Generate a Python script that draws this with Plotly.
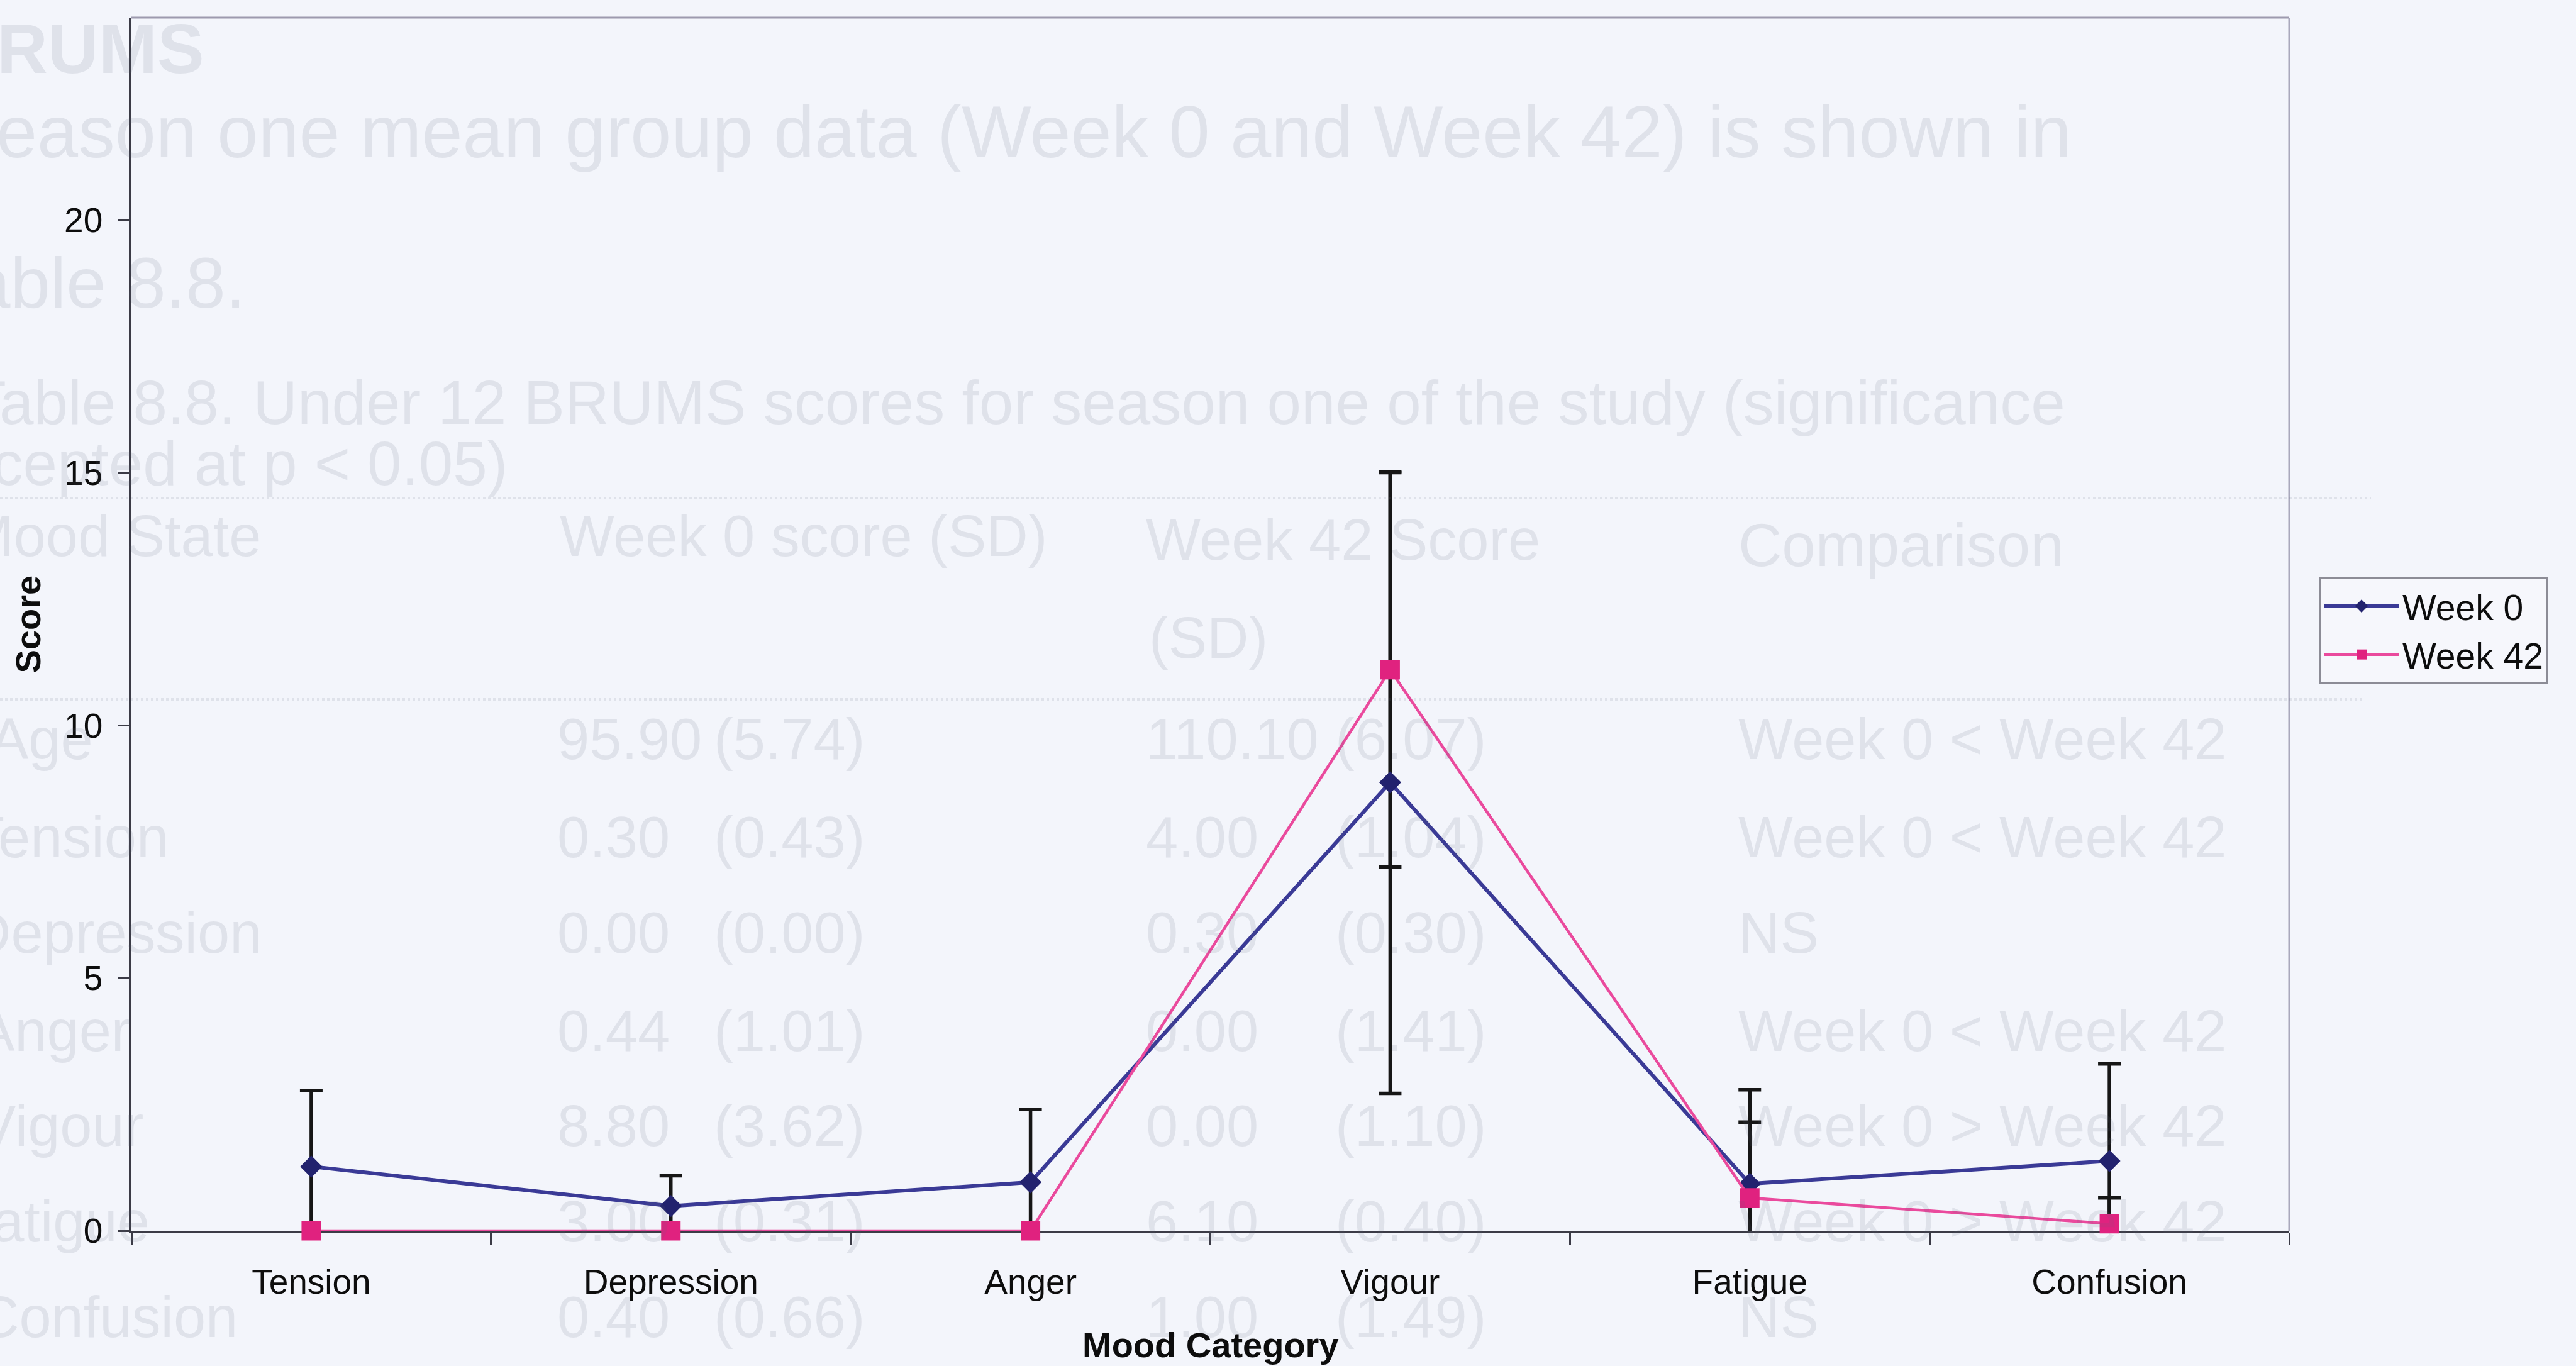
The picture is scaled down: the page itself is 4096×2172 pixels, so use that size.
import plotly.graph_objects as go

# ---- chart data -------------------------------------------------------------
categories = ["Tension", "Depression", "Anger", "Vigour", "Fatigue", "Confusion"]
week0_mean = [1.27, 0.49, 0.96, 8.87, 0.93, 1.38]
week0_sd = [1.50, 0.60, 1.44, 6.15, 1.86, 1.92]
week42_mean = [0.0, 0.0, 0.0, 11.10, 0.65, 0.14]
week42_sd = [None, None, None, 3.90, 1.50, 0.51]
y_ticks = [0, 5, 10, 15, 20]

# ---- faint page text showing through the scan -------------------------------
page_rows = ["Age", "Tension", "Depression", "Anger", "Vigour", "Fatigue", "Confusion"]
page_w0_mean = ["95.90", "0.30", "0.00", "0.44", "8.80", "3.00", "0.40"]
page_w0_sd = ["(5.74)", "(0.43)", "(0.00)", "(1.01)", "(3.62)", "(0.31)", "(0.66)"]
page_w42_mean = ["110.10", "4.00", "0.30", "0.00", "0.00", "6.10", "1.00"]
page_w42_sd = ["(6.07)", "(1.04)", "(0.30)", "(1.41)", "(1.10)", "(0.40)", "(1.49)"]
page_comparison = ["Week 0 < Week 42", "Week 0 < Week 42", "NS", "Week 0 < Week 42",
                   "Week 0 > Week 42", "Week 0 > Week 42", "NS"]

# ---- geometry / styling -----------------------------------------------------
W, H = 4096, 2172
L, R, T, B = 209, 3640, 28, 1957          # plot area edges in page pixels
FONT = "Liberation Sans, Arial, Helvetica, sans-serif"
BG = "#F3F5FB"
AXIS = "#3b3b46"
GHOST = "rgba(95,100,125,0.13)"
BLUE_LINE, BLUE_MARK = "#3A3A96", "#22226E"
PINK_LINE, PINK_MARK = "#EA4A9D", "#E0227F"


def px_x(px):
    return (px - L) / (R - L)


def px_y(py):
    return (B - py) / (B - T)


fig = go.Figure()

# error bars (clipped to the plot area)
fig.add_trace(go.Scatter(
    x=categories, y=week0_mean, mode="markers",
    marker=dict(size=2, opacity=0), showlegend=False, hoverinfo="skip",
    error_y=dict(type="data", array=week0_sd, symmetric=True,
                 color="#161616", thickness=5.5, width=18),
))
idx42 = [i for i, s in enumerate(week42_sd) if s is not None]
fig.add_trace(go.Scatter(
    x=[categories[i] for i in idx42], y=[week42_mean[i] for i in idx42], mode="markers",
    marker=dict(size=2, opacity=0), showlegend=False, hoverinfo="skip",
    error_y=dict(type="data", array=[week42_sd[i] for i in idx42], symmetric=True,
                 color="#161616", thickness=5.5, width=18),
))

# series lines and markers on an overlaid copy of the axes
fig.add_trace(go.Scatter(
    x=categories, y=week0_mean, name="Week 0", mode="lines+markers",
    xaxis="x2", yaxis="y2", cliponaxis=False,
    line=dict(color=BLUE_LINE, width=6),
    marker=dict(symbol="diamond", size=27, color=BLUE_MARK),
))
fig.add_trace(go.Scatter(
    x=categories, y=week42_mean, name="Week 42", mode="lines+markers",
    xaxis="x2", yaxis="y2", cliponaxis=False,
    line=dict(color=PINK_LINE, width=4.5),
    marker=dict(symbol="square", size=31, color=PINK_MARK),
))

annotations = []


def ghost(text, x, y, anchor="left", size=92, bold=False):
    annotations.append(dict(
        text=text, x=px_x(x), y=px_y(y), xref="paper", yref="paper",
        xanchor=anchor, yanchor="middle", showarrow=False,
        font=dict(family=FONT, size=size, color=GHOST,
                  weight="bold" if bold else "normal"),
    ))


ghost("BRUMS", 327, 78, "right", 112, True)
ghost("Season one mean group data (Week 0 and Week 42) is shown in", 3296, 209, "right", 117)
ghost("Table 8.8.", 392, 449, "right", 114)
ghost("Table 8.8. Under 12 BRUMS scores for season one of the study (significance",
      3286, 640, "right", 98)
ghost("accepted at p < 0.05)", 810, 737, "right", 98)
ghost("Mood State", 418, 852, "right")
ghost("Week 0 score (SD)", 888, 852, "left")
ghost("Week 42 Score", 1820, 858, "left")
ghost("Comparison", 2762, 866, "left", 96)
ghost("(SD)", 1825, 1014, "left")

row_y = [1175, 1331, 1483, 1639, 1790, 1942, 2094]
row_label_end = [150, 270, 418, 210, 230, 240, 380]
for k, yy in enumerate(row_y):
    ghost(page_rows[k], row_label_end[k], yy, "right")
    ghost(page_w0_mean[k], 884, yy)
    ghost(page_w0_sd[k], 1133, yy)
    ghost(page_w42_mean[k], 1820, yy)
    ghost(page_w42_sd[k], 2121, yy)
    ghost(page_comparison[k], 2762, yy)

# axis titles
annotations.append(dict(
    text="<b>Score</b>", x=px_x(44), y=0.5, xref="paper", yref="paper",
    textangle=-90, showarrow=False, xanchor="center", yanchor="middle",
    font=dict(family=FONT, size=56, color="#0d0d0d"),
))
annotations.append(dict(
    text="<b>Mood Category</b>", x=0.5, y=px_y(2138), xref="paper", yref="paper",
    showarrow=False, xanchor="center", yanchor="middle",
    font=dict(family=FONT, size=56, color="#0d0d0d"),
))

shapes = [
    # plot-area frame (top and right)
    dict(type="line", xref="paper", yref="paper", x0=0, x1=1, y0=1, y1=1,
         line=dict(color="#9d9aae", width=3), layer="below"),
    dict(type="line", xref="paper", yref="paper", x0=1, x1=1, y0=0, y1=1,
         line=dict(color="#a9a8bc", width=3), layer="below"),
    # faint table rules from the page behind
    dict(type="line", xref="paper", yref="paper", x0=px_x(0), x1=px_x(3770),
         y0=px_y(792), y1=px_y(792), line=dict(color=GHOST, width=4, dash="dot")),
    dict(type="line", xref="paper", yref="paper", x0=px_x(0), x1=px_x(3760),
         y0=px_y(1112), y1=px_y(1112), line=dict(color=GHOST, width=4, dash="dot")),
]

fig.update_layout(
    width=W, height=H, autosize=False,
    margin=dict(l=L, r=W - R, t=T, b=H - B, pad=0),
    paper_bgcolor=BG, plot_bgcolor=BG,
    font=dict(family=FONT, color="#0d0d0d"),
    showlegend=True,
    legend=dict(
        x=px_x(3687), y=px_y(917), xanchor="left", yanchor="top",
        bgcolor="#F6F7FC", bordercolor="#8c8c96", borderwidth=3,
        font=dict(family=FONT, size=57, color="#0d0d0d"),
        itemwidth=120, tracegroupgap=0, traceorder="normal",
    ),
    xaxis=dict(
        type="category", categoryorder="array", categoryarray=categories,
        range=[-0.5, len(categories) - 0.5],
        showline=True, linecolor=AXIS, linewidth=3.5,
        ticks="outside", tickson="boundaries", ticklen=18, tickwidth=3, tickcolor=AXIS,
        showgrid=False, zeroline=False, layer="below traces",
        tickfont=dict(family=FONT, size=55, color="#0d0d0d"), ticklabelstandoff=30,
        fixedrange=True,
    ),
    yaxis=dict(
        range=[0, 24], tickvals=y_ticks,
        showline=True, linecolor=AXIS, linewidth=3.5,
        ticks="outside", ticklen=17, tickwidth=3, tickcolor=AXIS,
        showgrid=False, zeroline=False, layer="below traces",
        tickfont=dict(family=FONT, size=55, color="#0d0d0d"), ticklabelstandoff=14,
        fixedrange=True,
    ),
    xaxis2=dict(overlaying="x", matches="x", visible=False, type="category",
                categoryorder="array", categoryarray=categories),
    yaxis2=dict(overlaying="y", matches="y", visible=False),
    annotations=annotations,
    shapes=shapes,
)

fig.write_html("out.html")
